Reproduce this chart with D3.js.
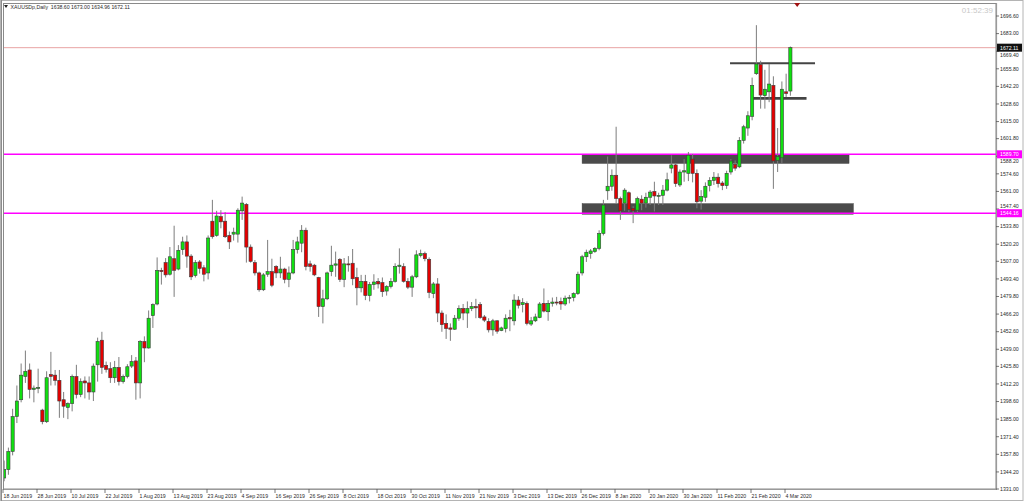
<!DOCTYPE html>
<html><head><meta charset="utf-8">
<script src="https://cdn.jsdelivr.net/npm/d3@7/dist/d3.min.js"></script>
<style>html,body{margin:0;padding:0;background:#fff;overflow:hidden}svg{display:block}</style>
</head><body><svg id="chart" width="1024" height="501"></svg>
<script>
// ---- DATA ----
const symbolTitle = "XAUUSDp,Daily  1638.60 1673.00 1634.96 1672.11";
const clockText = "01:52:39";
const months = [
  ["2019-06", [18,19,20,21,24,25,26,27,28]],
  ["2019-07", [1,2,3,4,5,8,9,10,11,12,15,16,17,18,19,22,23,24,25,26,29,30,31]],
  ["2019-08", [1,2,5,6,7,8,9,12,13,14,15,16,19,20,21,22,23,26,27,28,29,30]],
  ["2019-09", [2,3,4,5,6,9,10,11,12,13,16,17,18,19,20,23,24,25,26,27,30]],
  ["2019-10", [1,2,3,4,7,8,9,10,11,14,15,16,17,18,21,22,23,24,25,28,29,30,31]],
  ["2019-11", [1,4,5,6,7,8,11,12,13,14,15,18,19,20,21,22,25,26,27,28,29]],
  ["2019-12", [2,3,4,5,6,9,10,11,12,13,16,17,18,19,20,23,24,26,27,30,31]],
  ["2020-01", [2,3,6,7,8,9,10,13,14,15,16,17,20,21,22,23,24,27,28,29,30,31]],
  ["2020-02", [3,4,5,6,7,10,11,12,13,14,17,18,19,20,21,24,25,26,27,28]],
  ["2020-03", [2,3,4,5]]
];
const dates = months.flatMap(([m, days]) => days.map(d => m + "-" + String(d).padStart(2, "0")));

const opens = [1339.5,1346,1360,1387,1400,1418,1423,1408,1409,1392,1383,1419.5,1419,1415,1400,1394,1397,1418,1404,1414.5,
1413,1406,1427,1446,1426.5,1424,1417,1425,1414,1418,1426,1430,1413,1445,1440,1465,1474,1500,1506,1497,
1509,1501,1516,1522,1511,1496,1506.5,1502,1498,1538,1527,1541.5,1538,1527,1528,1528,1546,1551,1518,1506,
1498,1485,1497,1499,1503,1498,1501,1493,1498,1516,1521,1531,1505,1504,1494.5,1472,1478,1499,1504,1508.5,
1493,1505,1505.5,1494.5,1486.5,1491.5,1480.5,1489,1491.5,1490.5,1484,1487.5,1491.5,1503,1503,1491.5,1487,1495,1511.5,1513,
1508.5,1482,1489.5,1467,1459,1455.5,1454.5,1463,1470.5,1467,1470.5,1472,1473.5,1464,1460.5,1454,1461,1453.5,1455,1463.5,
1461,1477,1473.5,1474.5,1458.5,1461,1463.5,1474.5,1468,1474.5,1475.5,1476,1474,1478.5,1479,1482,1498,1510.5,1513,1514.5,
1517,1528.5,1561.5,1565,1573.5,1555.5,1552,1560,1548,1546.5,1555,1552,1556.5,1561,1557.5,1558,1562,1579,1581.5,1566,
1576,1575,1586,1575,1553.5,1556.5,1565.5,1569.5,1572,1567.5,1565.5,1576,1582,1580,1600.5,1610,1619,1652,1659,1635,
1638,1643,1585,1587,1638,1638.60];
const highs = [1353,1363,1393,1411,1428,1438,1428,1411,1424,1393,1422,1437,1423,1423,1406,1398,1419.5,1427,1416.5,1418,
1418,1428,1448,1452.5,1429.5,1429,1430,1433,1419.5,1427.5,1434.5,1433,1446,1449,1469,1474.5,1510,1502,1509.5,1518,
1534.5,1519.5,1526,1527,1512.5,1508,1508,1504,1527,1554.5,1546,1546.5,1545,1530,1533,1548,1557,1552,1520,1508,
1499,1498,1523.5,1509,1504,1510.5,1502,1503,1523.5,1526,1535,1533,1507.5,1505,1495,1485,1499,1519,1514.5,1509.5,
1509.5,1511,1516.5,1502,1496.5,1496.5,1491,1497,1494,1494.5,1488.5,1494,1505.5,1517,1505.5,1494,1496.5,1515.5,1516,1514.5,
1510,1491,1494,1469,1466,1459,1465.5,1473,1474,1476,1475.5,1478,1475.5,1465.5,1463,1462.5,1461.5,1456.5,1466,1469.5,
1481.5,1480,1478.5,1476,1464,1466.5,1475.5,1486,1477,1479,1479.5,1479,1480.5,1481,1483,1499,1512,1516,1516.5,1518,
1531,1554.5,1588,1578,1611,1557,1563.5,1561,1549.5,1557,1558,1560,1562,1568.5,1560,1566,1575.5,1589,1583,1578,
1586,1591.5,1590,1578,1562,1568,1572,1576,1575,1569,1577,1586,1585,1603,1612.5,1623,1649,1689.5,1662,1655,
1659.5,1650,1610,1646,1652,1673.00];
const lows = [1337,1342,1357,1382,1398,1413,1401,1398,1405,1381,1382,1411,1411,1386,1386,1385,1391,1401,1402,1401,
1400,1399,1414,1420,1421,1413,1413,1411,1412.5,1416.5,1424.5,1400,1401,1429,1439.5,1455.5,1473,1489,1494.5,1496,
1479.5,1500,1512,1502,1492.5,1494.5,1497.5,1491.5,1493,1524.5,1526,1532.5,1525,1516.5,1523,1521.5,1539,1506,1506,1496,
1483.5,1484,1495,1487,1494,1494,1490,1487,1497,1513,1514,1500,1499,1495.5,1464,1459,1477,1495.5,1495,1491,
1487,1499,1488.5,1473,1483,1477,1476,1485,1486,1479.5,1480.5,1486,1490.5,1497.5,1490.5,1485.5,1479.5,1494,1510,1507,
1478.5,1478.5,1460,1452.5,1447,1445.5,1454,1461,1461.5,1455.5,1468.5,1463,1462.5,1460,1452,1449.5,1451,1453,1452,1453,
1457.5,1470.5,1467.5,1457.5,1457,1460,1463,1467.5,1461,1472,1473,1469.5,1472.5,1474.5,1476,1481,1496,1506.5,1509,1513.5,
1515.5,1527,1554.5,1561.5,1552,1539,1546,1545,1536.5,1545,1546.5,1548.5,1550.5,1545.5,1550.5,1550.5,1561,1575,1564.5,1564.5,
1568.5,1569,1568,1548,1547,1553,1561,1566,1564,1562,1563,1574,1577,1579,1598,1604,1616,1651,1625,1625,
1630,1563,1576,1583,1634,1634.96];
const closes = [1346,1360,1387,1399,1419,1422,1408,1409,1409.5,1383,1417,1418,1415,1399,1395,1397,1418,1404,1414,1413,
1406,1426,1445,1425,1423.5,1417,1425,1414,1418,1425.5,1429.5,1413,1445,1440,1463,1473.5,1500,1499,1496.5,1510.5,
1500,1515.5,1522,1511,1495,1506,1501.5,1497,1525,1526,1542,1537.5,1526,1522,1529.5,1546.5,1552,1518,1507,1498,
1485,1496.5,1499,1488.5,1498,1501,1493,1498,1516,1522,1531,1503,1503,1496.5,1472,1478,1498,1504,1505,1493,
1505,1504.5,1493.5,1486.5,1491.5,1480.5,1489,1491,1489.5,1483.5,1487.5,1491.5,1503,1504,1491.5,1487,1495,1512,1513,1509,
1483,1489.5,1467,1458,1455,1454.5,1463,1470.5,1467,1470.5,1472,1471,1463.5,1461.5,1454,1461,1453,1455.5,1463,1462.5,
1477,1473,1475,1459,1461,1464,1474,1468.5,1474.5,1475.5,1475,1474,1478.5,1479,1482,1497,1510.5,1514,1515,1517,
1528.5,1550.5,1565,1573.5,1555.5,1546,1562,1547,1546,1555.5,1552,1556.5,1560.5,1557.5,1558,1562,1570,1581.5,1567,1576,
1577,1589,1575,1553,1557,1565,1569.5,1572,1567,1565.5,1575,1584.5,1579,1600.5,1611,1619.5,1643,1659.5,1635.5,1640,
1644,1584.5,1588,1640,1636.7,1672.11];

const yTickLabels = ["1696.60","1683.00","1669.40","1655.80","1642.20","1628.60","1615.00","1601.80","1588.20","1574.60",
"1561.00","1547.40","1533.80","1520.20","1507.00","1493.40","1479.80","1466.20","1452.60","1439.00","1425.80","1412.20",
"1398.60","1385.00","1371.40","1357.80","1344.20","1331.00"];
const xTickDates = ["2019-06-18","2019-06-28","2019-07-10","2019-07-22","2019-08-01","2019-08-13","2019-08-23","2019-09-04",
"2019-09-16","2019-09-26","2019-10-08","2019-10-18","2019-10-30","2019-11-11","2019-11-21","2019-12-03","2019-12-13",
"2019-12-26","2020-01-08","2020-01-20","2020-01-30","2020-02-11","2020-02-21","2020-03-04"];
const xTickLabels = ["18 Jun 2019","28 Jun 2019","10 Jul 2019","22 Jul 2019","1 Aug 2019","13 Aug 2019","23 Aug 2019",
"4 Sep 2019","16 Sep 2019","26 Sep 2019","8 Oct 2019","18 Oct 2019","30 Oct 2019","11 Nov 2019","21 Nov 2019","3 Dec 2019",
"13 Dec 2019","26 Dec 2019","8 Jan 2020","20 Jan 2020","30 Jan 2020","11 Feb 2020","21 Feb 2020","4 Mar 2020"];

// annotations (price / bar-index units)
const levelPrices = [1589.70, 1544.16];
const bidPrice = 1672.11;
const zoneFrom = [136, 136], zoneTo = [198.8, 199.8];
const zoneTop = [1589.7, 1551.5], zoneBottom = [1582.7, 1543.4];
const segFrom = [170.8, 176.2], segTo = [190.8, 188.8], segPrice = [1660.0, 1633.0];
const shiftMarkerIndex = 186.6;

// ---- LAYOUT ----
const W = 1024, H = 501;
const L = 3, T = 3, R = 996, B = 489;
const barStep = 4.25;
const svg = d3.select("#chart");
const font = "'Liberation Sans', Arial, sans-serif";

const x = d3.scaleBand().domain(dates).range([2, 2 + barStep * dates.length]).padding(0);
const bw = x.bandwidth();
const cx = d => x(d) + bw / 2;
const xi = d3.scaleLinear().domain([0, dates.length - 1]).range([cx(dates[0]), cx(dates[dates.length - 1])]);
const y = d3.scaleLinear().domain([1331.0, 1696.6]).range([489, 16]);

// frame
svg.append("rect").attr("x", 0).attr("y", 0).attr("width", W).attr("height", H).attr("fill", "#fff");
svg.append("rect").attr("x", 0.5).attr("y", 0.5).attr("width", W - 1.5).attr("height", H - 1)
  .attr("fill", "none").attr("stroke", "#b4b4b4");
svg.append("line").attr("x1", 1.5).attr("x2", 1.5).attr("y1", 0).attr("y2", H).attr("stroke", "#8c8c8c");

const clip = svg.append("defs").append("clipPath").attr("id", "plot");
clip.append("rect").attr("x", L).attr("y", T).attr("width", R - L).attr("height", B - T);
const g = svg.append("g").attr("clip-path", "url(#plot)");

// zones
const zoneIdx = d3.range(zoneFrom.length);
g.selectAll("rect.zone").data(zoneIdx).join("rect").attr("class", "zone")
  .attr("x", i => xi(zoneFrom[i])).attr("width", i => xi(zoneTo[i]) - xi(zoneFrom[i]))
  .attr("y", i => y(zoneTop[i])).attr("height", i => y(zoneBottom[i]) - y(zoneTop[i]))
  .attr("fill", "#4b4b4b").attr("stroke", "#3a3a3a").attr("stroke-width", 0.5);

// level lines
g.selectAll("line.level").data(levelPrices).join("line").attr("class", "level")
  .attr("x1", L).attr("x2", R).attr("y1", d => y(d)).attr("y2", d => y(d))
  .attr("stroke", "#ff00ff").attr("stroke-width", 1.4);
g.append("line").attr("x1", L).attr("x2", R).attr("y1", y(bidPrice)).attr("y2", y(bidPrice))
  .attr("stroke", "#e8a4a4").attr("stroke-width", 1);

// horizontal segments
const segIdx = d3.range(segFrom.length);
g.selectAll("line.seg").data(segIdx).join("line").attr("class", "seg")
  .attr("x1", i => xi(segFrom[i])).attr("x2", i => xi(segTo[i]))
  .attr("y1", i => y(segPrice[i])).attr("y2", i => y(segPrice[i]))
  .attr("stroke", "#444").attr("stroke-width", (d, i) => i === 0 ? 2 : 2.8);

// candles
const idx = d3.range(dates.length);
g.selectAll("line.wick").data(idx).join("line").attr("class", "wick")
  .attr("x1", i => cx(dates[i])).attr("x2", i => cx(dates[i]))
  .attr("y1", i => y(highs[i])).attr("y2", i => y(lows[i]))
  .attr("stroke", "#7d7d7d").attr("stroke-width", 1);
g.selectAll("rect.body").data(idx).join("rect").attr("class", "body")
  .attr("x", i => cx(dates[i]) - 1.6).attr("width", 3.2)
  .attr("y", i => y(Math.max(opens[i], closes[i])))
  .attr("height", i => Math.max(1, Math.abs(y(opens[i]) - y(closes[i]))))
  .attr("fill", i => closes[i] >= opens[i] ? "#10e010" : "#e40000")
  .attr("stroke", "#3c3c3c").attr("stroke-width", 0.6);

// plot frame
svg.append("rect").attr("x", L + 0.5).attr("y", T + 0.5).attr("width", R - L - 0.5).attr("height", B - T - 0.5)
  .attr("fill", "none").attr("stroke", "#8a8a8a").attr("stroke-width", 1);
svg.append("line").attr("x1", R + 0.5).attr("x2", R + 0.5).attr("y1", T).attr("y2", B + 1)
  .attr("stroke", "#9a9a9a").attr("stroke-width", 1.2);
svg.append("line").attr("x1", L).attr("x2", R + 1).attr("y1", B + 0.5).attr("y2", B + 0.5)
  .attr("stroke", "#9a9a9a").attr("stroke-width", 1.2);

// price tags (used to nudge axis labels that would sit under a tag)
const tags = [{p: bidPrice, bg: "#111", fg: "#fff"}].concat(levelPrices.map(p => ({p, bg: "#ff00ff", fg: "#fff"})));
const tagHalf = 4;
function labelY(v) {
  let yy = y(v);
  for (const t of tags) {
    const ty = y(t.p);
    if (Math.abs(yy - ty) < tagHalf + 3) {
      yy = yy >= ty ? ty + tagHalf + 3 : ty - tagHalf - 3;
    }
  }
  return yy;
}

// y axis labels
const yAx = svg.append("g");
yAx.selectAll("line").data(yTickLabels).join("line")
  .attr("x1", R).attr("x2", R + 3).attr("y1", d => y(+d)).attr("y2", d => y(+d))
  .attr("stroke", "#555").attr("stroke-width", 0.8);
yAx.selectAll("text").data(yTickLabels).join("text")
  .attr("x", R + 4).attr("y", d => labelY(+d)).attr("dy", "0.35em")
  .attr("font-family", font).attr("font-size", 5.2).attr("fill", "#2a2a2a").text(d => d);

const tg = svg.append("g").selectAll("g").data(tags).join("g");
tg.append("rect").attr("x", R + 1).attr("y", d => y(d.p) - tagHalf).attr("width", 25).attr("height", tagHalf * 2).attr("fill", d => d.bg);
tg.append("text").attr("x", R + 4).attr("y", d => y(d.p)).attr("dy", "0.35em")
  .attr("font-family", font).attr("font-size", 5.2).attr("fill", d => d.fg).text(d => d.p.toFixed(2));

// x axis labels
const xAx = svg.append("g");
xAx.selectAll("line").data(xTickDates).join("line")
  .attr("x1", d => x(d) + 1).attr("x2", d => x(d) + 1).attr("y1", B).attr("y2", B + 4)
  .attr("stroke", "#555").attr("stroke-width", 0.8);
xAx.selectAll("text").data(xTickDates).join("text")
  .attr("x", d => x(d) + 1.5).attr("y", B + 9)
  .attr("font-family", font).attr("font-size", 5.2).attr("fill", "#2a2a2a")
  .text((d, i) => xTickLabels[i]);

// title
svg.append("path").attr("d", "M4,5 L8,5 L6,8 Z").attr("fill", "#222");
svg.append("text").attr("x", 10.5).attr("y", 8.6).attr("font-family", font).attr("font-size", 5.2)
  .attr("fill", "#2a2a2a").attr("xml:space", "preserve").style("white-space", "pre").text(symbolTitle);

// clock
svg.append("text").attr("x", 993).attr("y", 13).attr("text-anchor", "end").attr("font-family", font)
  .attr("font-size", 8).attr("fill", "#c8c8c8").text(clockText);

// chart shift marker
const mx = xi(shiftMarkerIndex);
svg.append("path").attr("d", `M${mx - 3},${T} L${mx + 3},${T} L${mx},${T + 4} Z`).attr("fill", "#a01010");
</script>
</body></html>
